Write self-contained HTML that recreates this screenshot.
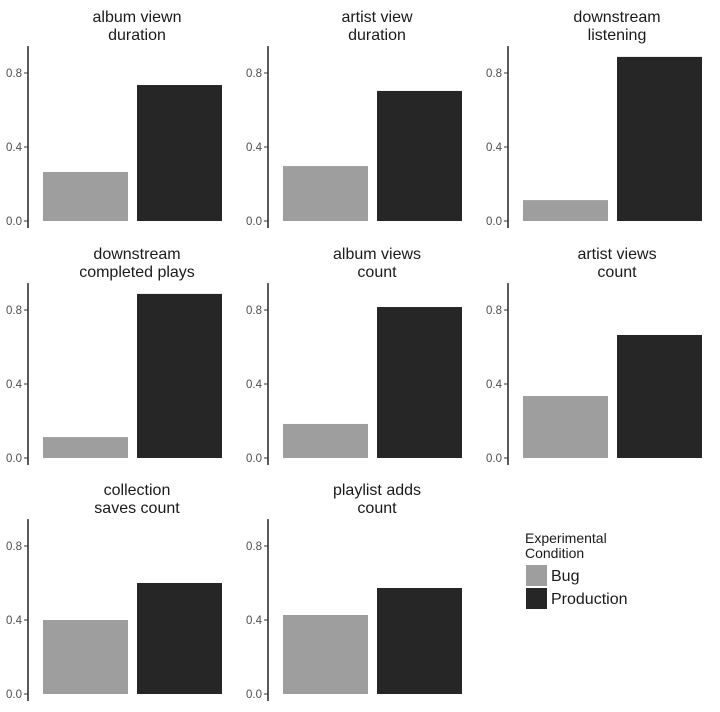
<!DOCTYPE html>
<html><head><meta charset="utf-8"><style>
body{margin:0;background:#fff;}
svg text{font-family:"Liberation Sans",Arial,sans-serif;}
</style></head><body>
<svg id="c" width="720" height="707" xmlns="http://www.w3.org/2000/svg"></svg>
<script>
const titles=[["album viewn","duration"],["artist view","duration"],["downstream","listening"],["downstream","completed plays"],["album views","count"],["artist views","count"],["collection","saves count"],["playlist adds","count"]];
const bugValues=[0.265,0.297,0.113,0.113,0.184,0.335,0.40,0.427];
const prodValues=[0.735,0.703,0.887,0.887,0.816,0.665,0.60,0.573];
const tickValues=[0,0.4,0.8];
const tickLabels=["0.0","0.4","0.8"];
const svg=document.getElementById('c');
const NS='http://www.w3.org/2000/svg';
function mk(t,a,p){const e=document.createElementNS(NS,t);for(const k in a)e.setAttribute(k,a[k]);(p||svg).appendChild(e);return e;}
const colX=[28,268,508], rowZero=[221,458,694], scale=185;
titles.forEach((t,i)=>{
  const ax=colX[i%3], z=rowZero[Math.floor(i/3)];
  const y=v=>z-v*scale;
  const g=mk('g',{});
  
  
  const cx=ax+109;
  t.forEach((ln,j)=>{const tx=mk('text',{x:cx,y:z-199+j*18,'text-anchor':'middle','font-size':16,fill:'#1a1a1a'},g);tx.textContent=ln;
    });
  const al=mk('line',{x1:ax,x2:ax,y1:y(0.945),y2:z+7,stroke:'#000','stroke-width':1.3},g);
  
  tickValues.forEach((v,k)=>{
    mk('line',{x1:ax-4,x2:ax,y1:y(v),y2:y(v),stroke:'#333','stroke-width':1},g);
    const tl=mk('text',{x:ax-6,y:y(v)+4,'text-anchor':'end','font-size':11.5,fill:'#4d4d4d'},g);
    tl.textContent=tickLabels[k];
    
  });
  const b1=mk('rect',{x:ax+15,width:85,y:y(bugValues[i]),height:bugValues[i]*scale,fill:'#9e9e9e'},g);
  
  const b2=mk('rect',{x:ax+109,width:85,y:y(prodValues[i]),height:prodValues[i]*scale,fill:'#262626'},g);
  
});
const lg=mk('g',{});

const l1=mk('text',{x:525,y:543,'font-size':14,fill:'#1a1a1a'},lg);l1.textContent='Experimental';

const l2=mk('text',{x:525,y:558,'font-size':14,fill:'#1a1a1a'},lg);l2.textContent='Condition';

[["Bug","#9e9e9e",565],["Production","#262626",588]].forEach(([n,c,yy])=>{
  const r=mk('rect',{x:526,y:yy,width:21,height:21,fill:c},lg);
  
  const t=mk('text',{x:551,y:yy+16,'font-size':16,fill:'#1a1a1a'},lg);t.textContent=n;
  
});
</script>
</body></html>
